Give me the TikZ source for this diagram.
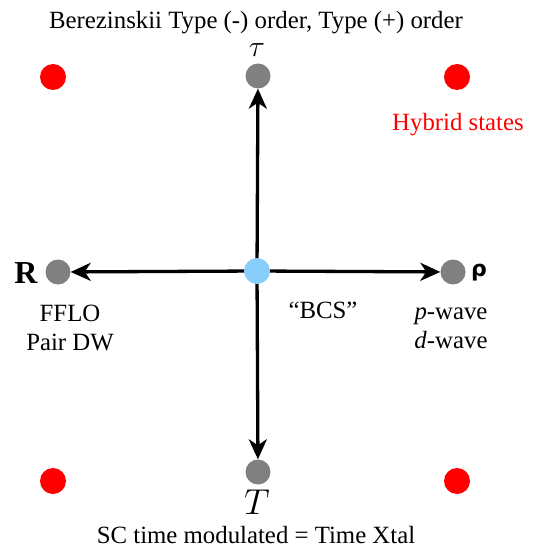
\RequirePackage{fix-cm}
\documentclass[tikz,border=0pt]{standalone}
\usepackage{fontspec}
\setmainfont{Liberation Serif}
\newfontfamily\symfont{DejaVu Sans}
\usetikzlibrary{arrows.meta}
\definecolor{dotgray}{HTML}{808080}
\definecolor{dotblue}{HTML}{87CEFA}
\tikzset{
  gdot/.style={circle,fill=dotgray,minimum size=25pt,inner sep=0pt},
  rdot/.style={circle,fill=red,minimum size=26pt,inner sep=0pt},
  bdot/.style={circle,fill=dotblue,minimum size=26pt,inner sep=0pt},
  lbl/.style={font=\fontsize{24.8}{29}\selectfont,align=center,inner sep=0pt},
  axis/.style={line width=3.3pt,-{Stealth[length=20pt,width=18pt,inset=6pt]}},
}
\begin{document}
\begin{tikzpicture}[x=1pt,y=-1pt]
\useasboundingbox (0,0) rectangle (532,548);
% nodes
\node[gdot] (tau) at (258,76) {};
\node[gdot] (T) at (258,472) {};
\node[gdot] (R) at (58,272) {};
\node[gdot] (rho) at (453,272) {};
\coordinate (c) at (257,271);
\draw[axis] (c) -- (tau);
\draw[axis] (c) -- (T);
\draw[axis] (c) -- (R);
\draw[axis] (c) -- (rho);
\node[bdot] (bcs) at (c) {};
\node[rdot] (h1) at (53,77) {};
\node[rdot] (h2) at (457,77) {};
\node[rdot] (h3) at (53,481) {};
\node[rdot] (h4) at (457,481) {};
% labels
\node[lbl,anchor=base] (title) at (256,29) {Berezinskii Type (-) order, Type (+) order};
\node[inner sep=0pt] (taul) at (257,50) {\fontsize{30}{32}\selectfont$\tau$};
\node[inner sep=0pt] (Tl) at (257,502) {\fontsize{36}{38}\selectfont$T$};
\node[inner sep=0pt] (Rl) at (26,273) {\fontsize{32}{34}\selectfont$\mathbf{R}$};
\node[inner sep=0pt] (rhol) at (479,273) {\fontsize{22}{24}\selectfont\symfont\bfseries ρ};
\node[lbl,text=red] (hyb) at (458,125) {Hybrid states};
\node[lbl] (fflo) at (70,328) {FFLO\\Pair DW};
\node[lbl] (bcsl) at (323,310) {“BCS”};
\node[lbl] (pd) at (451,328) {\textit{p}-wave\\\textit{d}-wave};
\node[lbl,anchor=base] (sc) at (256,543) {SC time modulated = Time Xtal};
\end{tikzpicture}
\end{document}
